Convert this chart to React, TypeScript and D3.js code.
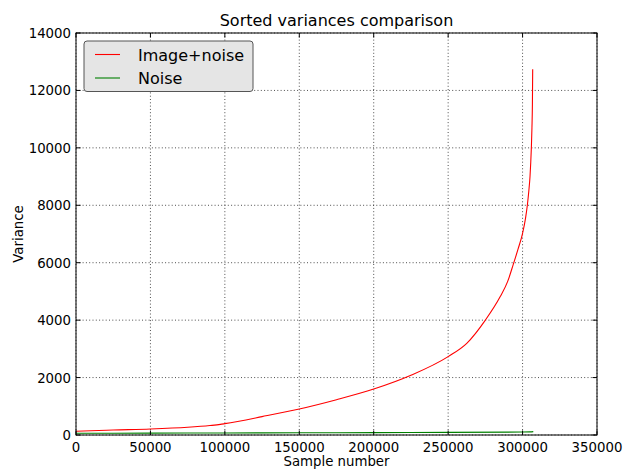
import React from "react";
import * as d3 from "d3";

const title = "Sorted variances comparison";
const xLabel = "Sample number";
const yLabel = "Variance";
const seriesNames = ["Image+noise", "Noise"];
const seriesColors = ["#ff0000", "#008000"];

const xTicks = [0, 50000, 100000, 150000, 200000, 250000, 300000, 350000];
const yTicks = [0, 2000, 4000, 6000, 8000, 10000, 12000, 14000];

const imageX = [0, 10000, 25000, 50000, 75000, 90000, 97000, 100000, 125000, 150000, 175000, 200000, 225000, 250000, 262500, 275000, 285000, 290000, 293800, 297000, 300000, 302000, 303200, 304200, 305000, 305500, 305900, 306300, 306600, 306800];
const imageY = [130, 150, 175, 210, 270, 330, 370, 395, 640, 906, 1230, 1600, 2080, 2730, 3190, 4000, 4820, 5350, 5950, 6480, 7025, 7550, 8000, 8500, 9000, 9500, 10000, 10700, 11500, 12740];

const noiseX = [0, 50000, 100000, 150000, 200000, 250000, 300000, 305000, 307200];
const noiseY = [60, 66, 72, 78, 84, 92, 102, 108, 118];

const W = 624, H = 469;
const L = 76, R = 597, T = 33, B = 435;
const FONT = "'DejaVu Sans', sans-serif";

export default function App() {
  const x = d3.scaleLinear().domain([0, 350000]).range([L, R]);
  const y = d3.scaleLinear().domain([0, 14000]).range([B, T]);
  const line = d3.line<[number, number]>().x(d => x(d[0])).y(d => y(d[1])).curve(d3.curveMonotoneX);
  const imgData = imageX.map((v, i) => [v, imageY[i]] as [number, number]);
  const noiseData = noiseX.map((v, i) => [v, noiseY[i]] as [number, number]);
  const tickLen = 4.5;
  return (
    <svg width={W} height={H} style={{ position: "absolute", left: 0, top: 0 }} fontFamily={FONT}>
      <rect x={0} y={0} width={W} height={H} fill="#ffffff" />
      <defs>
        <clipPath id="plot"><rect x={L} y={T} width={R - L} height={B - T} /></clipPath>
      </defs>
      {/* grid */}
      {xTicks.map(t => (
        <line key={"gx" + t} x1={x(t)} x2={x(t)} y1={T} y2={B} stroke="#000" strokeWidth={0.7} strokeDasharray="1,2.3" />
      ))}
      {yTicks.map(t => (
        <line key={"gy" + t} x1={L} x2={R} y1={y(t)} y2={y(t)} stroke="#000" strokeWidth={0.7} strokeDasharray="1,2.3" />
      ))}
      {/* data */}
      <g clipPath="url(#plot)">
        <path d={line(noiseData) || ""} fill="none" stroke={seriesColors[1]} strokeWidth={1.1} />
        <path d={line(imgData) || ""} fill="none" stroke={seriesColors[0]} strokeWidth={1.1} />
      </g>
      {/* ticks */}
      {xTicks.map(t => (
        <g key={"tx" + t}>
          <line x1={x(t)} x2={x(t)} y1={B} y2={B - tickLen} stroke="#000" strokeWidth={1} />
          <line x1={x(t)} x2={x(t)} y1={T} y2={T + tickLen} stroke="#000" strokeWidth={1} />
          <text x={x(t)} y={452} fontSize={13.3} textAnchor="middle" fill="#000">{t}</text>
        </g>
      ))}
      {yTicks.map(t => (
        <g key={"ty" + t}>
          <line x1={L} x2={L + tickLen} y1={y(t)} y2={y(t)} stroke="#000" strokeWidth={1} />
          <line x1={R} x2={R - tickLen} y1={y(t)} y2={y(t)} stroke="#000" strokeWidth={1} />
          <text x={71} y={y(t) + 5} fontSize={13.3} textAnchor="end" fill="#000">{t}</text>
        </g>
      ))}
      {/* spines */}
      <rect x={L} y={T} width={R - L} height={B - T} fill="none" stroke="#000" strokeWidth={1} />
      {/* labels */}
      <text x={(L + R) / 2} y={26} fontSize={16} textAnchor="middle" fill="#000">{title}</text>
      <text x={(L + R) / 2} y={466} fontSize={13.3} textAnchor="middle" fill="#000">{xLabel}</text>
      <text transform={`translate(23,${(T + B) / 2}) rotate(-90)`} fontSize={13.3} textAnchor="middle" fill="#000">{yLabel}</text>
      {/* legend */}
      <rect x={84} y={41} width={169} height={50.5} rx={3} ry={3} fill="#e5e5e5" stroke="#555" strokeWidth={1} />
      {seriesNames.map((n, i) => (
        <g key={n}>
          <line x1={95} x2={120} y1={54.5 + i * 23.5} y2={54.5 + i * 23.5} stroke={seriesColors[i]} strokeWidth={1.1} />
          <text x={138} y={54.5 + i * 23.5 + 6} fontSize={16} fill="#000">{n}</text>
        </g>
      ))}
    </svg>
  );
}
